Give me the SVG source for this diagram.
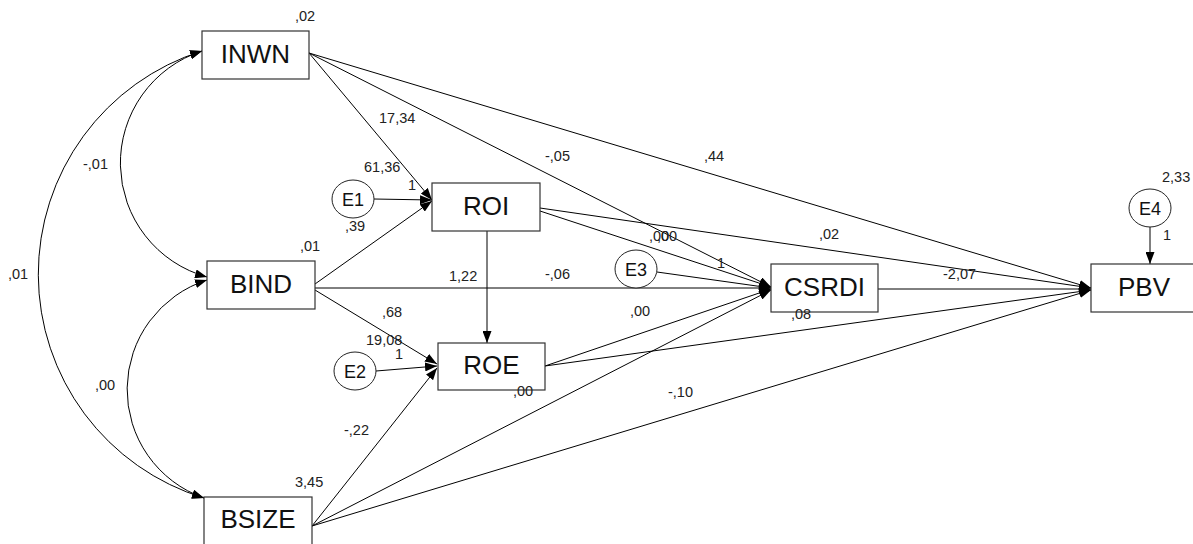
<svg xmlns="http://www.w3.org/2000/svg" width="1193" height="544" viewBox="0 0 1193 544">
<style>
.box{fill:#fff;stroke:#333;stroke-width:1.2}
.err{fill:#fff;stroke:#222;stroke-width:1}
.name{font-family:"Liberation Sans",Arial,sans-serif;font-size:26px;fill:#111;text-anchor:middle}
.ename{font-family:"Liberation Sans",Arial,sans-serif;font-size:18px;fill:#111;text-anchor:middle}
.lbl{font-family:"Liberation Sans",Arial,sans-serif;font-size:14.5px;fill:#222}
.c{fill:none;stroke:#000;stroke-width:1;marker-end:url(#ah)}
.cc{fill:none;stroke:#000;stroke-width:1;marker-end:url(#ah);marker-start:url(#ah)}
</style>
<defs>
<marker id="ah" markerUnits="userSpaceOnUse" markerWidth="12" markerHeight="9" refX="12" refY="4.5" orient="auto-start-reverse"><path d="M0,0 L12,4.5 L0,9 z" fill="#000"/></marker>
</defs>
<rect width="1193" height="544" fill="#fff"/>
<g id="connectors">
<path class="cc" d="M202,51 A118,118 0 0 0 207,277"/>
<path class="cc" d="M207,280 A115,115 0 0 0 204,498"/>
<path class="cc" d="M202,51 A234,234 0 0 0 204,498"/>
<path class="c" d="M309,53 L432,200"/>
<path class="c" d="M374,199 L432,200"/>
<path class="c" d="M315,284 L432,201"/>
<path class="c" d="M315,290 L437,364"/>
<path class="c" d="M376,371 L437,366"/>
<path class="c" d="M312,526 L437,368"/>
<path class="c" d="M487,231 L487,343"/>
<path class="c" d="M309,53 L771,287"/>
<path class="c" d="M540,211 L771,287"/>
<path class="c" d="M657,272 L771,288"/>
<path class="c" d="M315,288 L771,288"/>
<path class="c" d="M545,366 L771,289"/>
<path class="c" d="M312,526 L771,290"/>
<path class="c" d="M309,53 L1091,288"/>
<path class="c" d="M540,208 L1091,288"/>
<path class="c" d="M878,289 L1091,289"/>
<path class="c" d="M545,366 L1091,290"/>
<path class="c" d="M312,526 L1091,290"/>
<path class="c" d="M1150,227 L1150,264"/>
</g>
<g id="INWN"><rect class="box" x="202" y="31" width="107" height="48"/><text class="name" x="255.5" y="63">INWN</text><text class="lbl" x="295" y="21">,02</text></g>
<g id="BIND"><rect class="box" x="207" y="261" width="108" height="48"/><text class="name" x="261" y="293">BIND</text><text class="lbl" x="300" y="251">,01</text></g>
<g id="BSIZE"><rect class="box" x="204" y="497" width="108" height="48"/><text class="name" x="258" y="528">BSIZE</text><text class="lbl" x="295" y="487">3,45</text></g>
<g id="ROI"><rect class="box" x="432" y="183" width="108" height="48"/><text class="name" x="486" y="215">ROI</text></g>
<g id="ROE"><rect class="box" x="438" y="343" width="107" height="47"/><text class="name" x="491.5" y="374">ROE</text></g>
<g id="CSRDI"><rect class="box" x="771" y="264" width="107" height="48"/><text class="name" x="824.5" y="296">CSRDI</text></g>
<g id="PBV"><rect class="box" x="1091" y="264" width="107" height="48"/><text class="name" x="1144" y="296">PBV</text></g>
<g id="E1"><ellipse class="err" cx="353" cy="199" rx="21" ry="19"/><text class="ename" x="353" y="205.5">E1</text></g>
<g id="E2"><ellipse class="err" cx="355" cy="371" rx="21" ry="19"/><text class="ename" x="355" y="377.5">E2</text></g>
<g id="E3"><ellipse class="err" cx="636" cy="269" rx="21" ry="19"/><text class="ename" x="636" y="275.5">E3</text></g>
<g id="E4"><ellipse class="err" cx="1150" cy="208" rx="21" ry="19"/><text class="ename" x="1150" y="214.5">E4</text><text class="lbl" x="1162" y="182">2,33</text><text class="lbl" x="1163" y="240">1</text></g>
<g id="labels">
<text class="lbl" x="83" y="169">-,01</text>
<text class="lbl" x="8" y="279">,01</text>
<text class="lbl" x="95" y="390">,00</text>
<text class="lbl" x="379" y="123">17,34</text>
<text class="lbl" x="364" y="172">61,36</text>
<text class="lbl" x="408" y="190">1</text>
<text class="lbl" x="345" y="231">,39</text>
<text class="lbl" x="449" y="281">1,22</text>
<text class="lbl" x="382" y="317">,68</text>
<text class="lbl" x="366" y="345">19,08</text>
<text class="lbl" x="395" y="359">1</text>
<text class="lbl" x="513" y="396">,00</text>
<text class="lbl" x="344" y="435">-,22</text>
<text class="lbl" x="545" y="279">-,06</text>
<text class="lbl" x="649" y="241">,00</text>
<text class="lbl" x="657" y="241">,00</text>
<text class="lbl" x="717" y="268">1</text>
<text class="lbl" x="819" y="239">,02</text>
<text class="lbl" x="630" y="316">,00</text>
<text class="lbl" x="791" y="319">,08</text>
<text class="lbl" x="545" y="161">-,05</text>
<text class="lbl" x="704" y="161">,44</text>
<text class="lbl" x="668" y="397">-,10</text>
<text class="lbl" x="943" y="279">-2,07</text>
</g>
</svg>
